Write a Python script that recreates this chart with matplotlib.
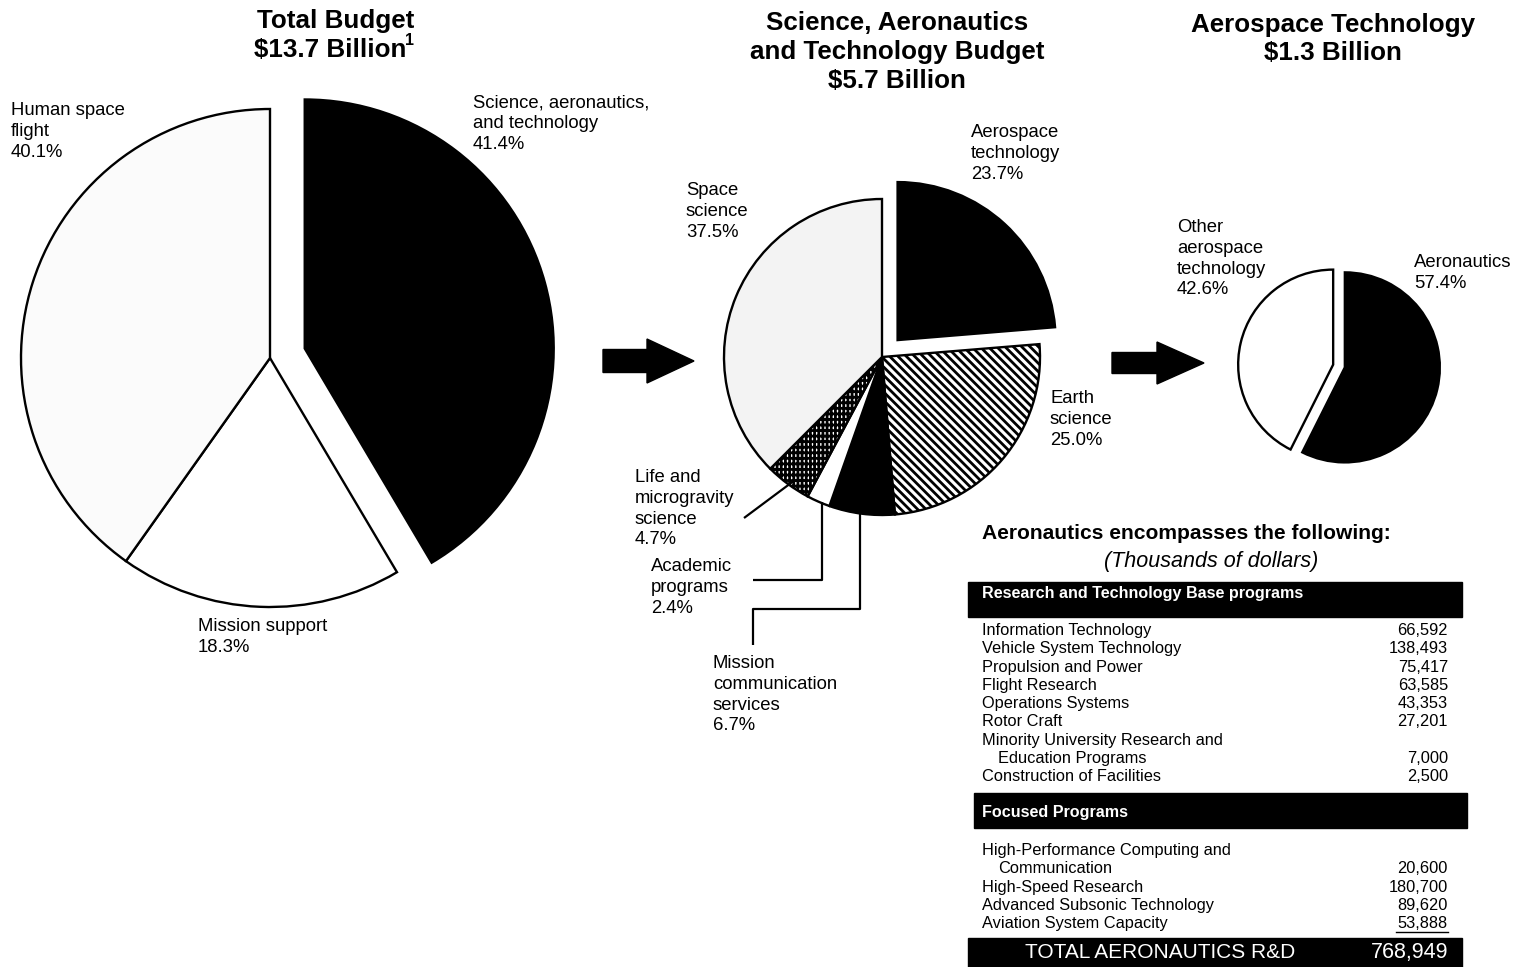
import matplotlib
matplotlib.use("Agg")
import matplotlib.pyplot as plt
from matplotlib.patches import Rectangle, FancyArrow

# ---------------- data ----------------
total_title = ["Total Budget", "$13.7 Billion"]
total_names = [["Science, aeronautics,", "and technology"], ["Mission support"], ["Human space", "flight"]]
total_pct = [41.4, 18.3, 40.1]

sat_title = ["Science, Aeronautics", "and Technology Budget", "$5.7 Billion"]
sat_names = [["Aerospace", "technology"], ["Earth", "science"], ["Mission", "communication", "services"],
             ["Academic", "programs"], ["Life and", "microgravity", "science"], ["Space", "science"]]
sat_pct = [23.7, 25.0, 6.7, 2.4, 4.7, 37.5]

aero_title = ["Aerospace Technology", "$1.3 Billion"]
aero_names = [["Aeronautics"], ["Other", "aerospace", "technology"]]
aero_pct = [57.4, 42.6]

table_title = "Aeronautics encompasses the following:"
table_sub = "(Thousands of dollars)"
base_header = "Research and Technology Base programs"
base_items = ["Information Technology", "Vehicle System Technology", "Propulsion and Power",
              "Flight Research", "Operations Systems", "Rotor Craft",
              "Minority University Research and\nEducation Programs", "Construction of Facilities"]
base_values = ["66,592", "138,493", "75,417", "63,585", "43,353", "27,201", "7,000", "2,500"]
focus_header = "Focused Programs"
focus_items = ["High-Performance Computing and\nCommunication", "High-Speed Research",
               "Advanced Subsonic Technology", "Aviation System Capacity"]
focus_values = ["20,600", "180,700", "89,620", "53,888"]
total_label = "TOTAL AERONAUTICS R&D"
total_value = "768,949"

# ---------------- setup ----------------
W, H = 1525, 967
plt.rcParams['font.family'] = ['Liberation Sans', 'DejaVu Sans']
plt.rcParams['hatch.linewidth'] = 2.0

fig = plt.figure(figsize=(W / 100, H / 100), dpi=100)
ax = fig.add_axes([0, 0, 1, 1])


def Y(py):
    return H - py


def block(x, y0, lines, dy=20.8, **kw):
    for i, s in enumerate(lines):
        ax.text(x, Y(y0 + i * dy), s, va='baseline', **kw)


LBL = 13.3
TTL = 18.7
wp = dict(edgecolor='black', linewidth=1.7)

# ---------------- pie 1 ----------------
ax.pie(total_pct, center=(270, Y(358)), radius=249, startangle=90, counterclock=False,
       explode=[36, 0, 0], colors=['black', 'white', '#fbfbfb'], wedgeprops=wp, frame=True)

block(473, 107, total_names[0] + [f"{total_pct[0]:.1f}%"], fontsize=LBL)
block(198, 631, total_names[1] + [f"{total_pct[1]:.1f}%"], fontsize=LBL)
block(11, 115, total_names[2] + [f"{total_pct[2]:.1f}%"], fontsize=LBL)

ax.text(336, Y(28), total_title[0], ha='center', va='baseline', fontsize=TTL, fontweight='bold')
ax.text(330, Y(57), total_title[1], ha='center', va='baseline', fontsize=TTL, fontweight='bold')
ax.text(405, Y(45), "1", ha='left', va='baseline', fontsize=11.5, fontweight='bold')

# ---------------- pie 2 ----------------
ax.pie(sat_pct, center=(882, Y(357)), radius=158, startangle=90, counterclock=False,
       explode=[23, 0, 0, 0, 0, 0],
       colors=['black', 'white', 'black', 'white', 'white', '#f3f3f3'],
       hatch=['', '\\\\\\\\', '', '', '+++|', ''], wedgeprops=wp, frame=True)

block(971, 137, sat_names[0] + [f"{sat_pct[0]:.1f}%"], fontsize=LBL)
block(1050, 403, sat_names[1] + [f"{sat_pct[1]:.1f}%"], fontsize=LBL)
block(713, 668, sat_names[2] + [f"{sat_pct[2]:.1f}%"], fontsize=LBL)
block(651, 571, sat_names[3] + [f"{sat_pct[3]:.1f}%"], fontsize=LBL)
block(635, 482, sat_names[4] + [f"{sat_pct[4]:.1f}%"], fontsize=LBL)
block(686, 195, sat_names[5] + [f"{sat_pct[5]:.1f}%"], fontsize=LBL)

for i, s in enumerate(sat_title):
    ax.text(897, Y(30 + i * 29), s, ha='center', va='baseline', fontsize=TTL, fontweight='bold')

# leader lines
lk = dict(color='black', lw=1.6, solid_capstyle='butt')
ax.plot([744, 795], [Y(518), Y(480)], **lk)
ax.plot([753, 822, 822], [Y(580), Y(580), Y(502)], **lk)
ax.plot([753, 753, 860, 860], [Y(645), Y(609), Y(609), Y(512)], **lk)

# ---------------- pie 3 ----------------
ax.pie(aero_pct, center=(1339, Y(366)), radius=95, startangle=90, counterclock=False,
       explode=[6, 6], colors=['black', 'white'], wedgeprops=wp, frame=True)

block(1414, 267, aero_names[0] + [f"{aero_pct[0]:.1f}%"], fontsize=LBL)
block(1177, 232, aero_names[1] + [f"{aero_pct[1]:.1f}%"], fontsize=LBL)

for i, s in enumerate(aero_title):
    ax.text(1333, Y(32 + i * 28), s, ha='center', va='baseline', fontsize=TTL, fontweight='bold')

# ---------------- arrows ----------------
ax.add_patch(FancyArrow(603, Y(361), 91, 0, width=23, head_width=44, head_length=47,
                        length_includes_head=True, color='black'))
ax.add_patch(FancyArrow(1112, Y(363), 92, 0, width=21, head_width=42, head_length=47,
                        length_includes_head=True, color='black'))

# ---------------- table ----------------
ax.text(982, Y(539), table_title, fontsize=15.1, fontweight='bold', va='baseline')
ax.text(1211, Y(567), table_sub, fontsize=15.5, style='italic', ha='center', va='baseline')

ax.add_patch(Rectangle((968, Y(617)), 494, 35, color='black'))
ax.text(982, Y(598), base_header, color='white', fontsize=11.6, fontweight='bold', va='baseline')

RX = 1448
TF = 11.8
row_y = 635
for name, val in zip(base_items, base_values):
    parts = name.split("\n")
    for j, p in enumerate(parts):
        ax.text(982 if j == 0 else 998, Y(row_y), p, fontsize=TF, va='baseline')
        if j < len(parts) - 1:
            row_y += 18.3
    ax.text(RX, Y(row_y), val, fontsize=TF, ha='right', va='baseline')
    row_y += 18.3

ax.add_patch(Rectangle((974, Y(828)), 493, 35, color='black'))
ax.text(982, Y(817), focus_header, color='white', fontsize=11.6, fontweight='bold', va='baseline')

row_y = 855
for name, val in zip(focus_items, focus_values):
    parts = name.split("\n")
    for j, p in enumerate(parts):
        ax.text(982 if j == 0 else 998, Y(row_y), p, fontsize=TF, va='baseline')
        if j < len(parts) - 1:
            row_y += 18.3
    ax.text(RX, Y(row_y), val, fontsize=TF, ha='right', va='baseline')
    last_y = row_y
    row_y += 18.3
ax.plot([1396, RX], [Y(last_y + 4), Y(last_y + 4)], color='black', lw=1.0)

ax.add_patch(Rectangle((968, Y(967)), 494, 29, color='black'))
ax.text(1160, Y(958), total_label, color='white', fontsize=15, ha='center', va='baseline')
ax.text(RX, Y(958), total_value, color='white', fontsize=15.5, ha='right', va='baseline')

# ---------------- finish ----------------
ax.set_xlim(0, W)
ax.set_ylim(0, H)
ax.set_aspect('auto')
ax.axis('off')
fig.savefig("out.png", dpi=100)
